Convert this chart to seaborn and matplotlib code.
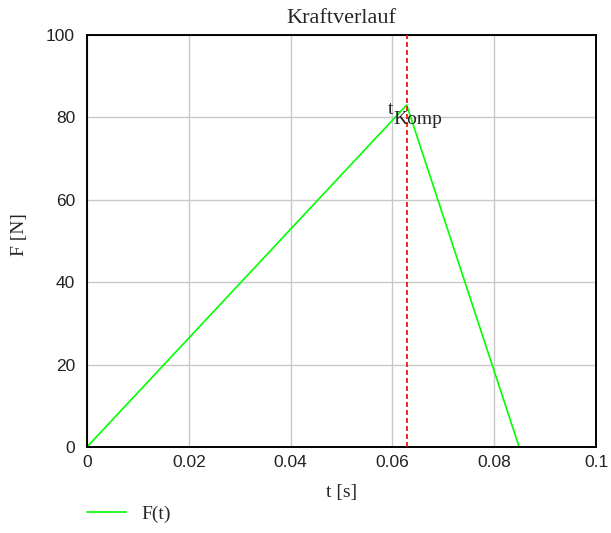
import matplotlib
matplotlib.use("Agg")
import matplotlib.pyplot as plt
import pandas as pd
import seaborn as sns

# Kraftverlauf data
t_values = [0.0, 0.0628, 0.0849]
F_values = [0.0, 83.0, 0.0]
t_komp = 0.0628
x_ticks = [0, 0.02, 0.04, 0.06, 0.08, 0.1]
x_tick_labels = ["0", "0.02", "0.04", "0.06", "0.08", "0.1"]
y_ticks = [0, 20, 40, 60, 80, 100]

df = pd.DataFrame({"t": t_values, "F": F_values})

sns.set_style("white")
plt.rcParams["font.family"] = ["Liberation Serif", "DejaVu Serif"]

fig = plt.figure(figsize=(6.11, 5.33), dpi=100)
ax = fig.add_axes([0.1424, 0.1614, 0.8331, 0.7730])

sns.lineplot(data=df, x="t", y="F", ax=ax, color="#00ff00", linewidth=1.2,
             label="F(t)", legend=False, sort=False)
ax.axvline(t_komp, color="#ff0000", linewidth=1.2, linestyle=(0, (3, 1.8)), zorder=3)

ax.set_xlim(0, 0.1)
ax.set_ylim(0, 100)
ax.set_xticks(x_ticks)
ax.set_xticklabels(x_tick_labels)
ax.set_yticks(y_ticks)
ax.grid(True, color="#c8c8c8", linewidth=1)
ax.set_axisbelow(True)
for s in ax.spines.values():
    s.set_color("black")
    s.set_linewidth(1.4)
    s.set_visible(True)

ax.tick_params(axis="both", length=0, labelsize=12.5)
ax.tick_params(axis="x", pad=5.5)
ax.tick_params(axis="y", pad=8.6)
for lbl in ax.get_xticklabels() + ax.get_yticklabels():
    lbl.set_fontfamily("Liberation Sans")
    lbl.set_color("#222222")

ax.set_title("Kraftverlauf", fontsize=16, pad=8.5)
ax.set_xlabel("t [s]", fontsize=14)
ax.set_ylabel("F [N]", fontsize=14)
ax.xaxis.set_label_coords(0.5, -0.09)
ax.yaxis.set_label_coords(-0.116, 0.515)

# marker label t_Komp
ax.text(t_komp - 0.0037, 80.7, "t", fontsize=14, ha="left", va="baseline")
ax.text(t_komp - 0.0027, 78.3, "Komp", fontsize=14, ha="left", va="baseline")

fig.legend(loc="center left", bbox_to_anchor=(0.1424, 0.0356), frameon=False,
           borderpad=0, borderaxespad=0, handlelength=2.0, handletextpad=0.8,
           fontsize=14)

fig.savefig("out.png", dpi=100, facecolor="white")
